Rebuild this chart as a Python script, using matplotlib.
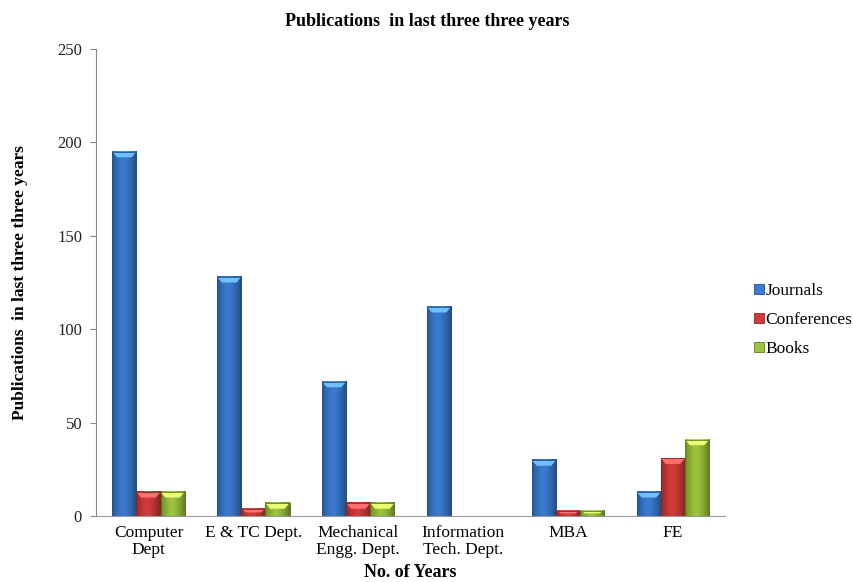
import numpy as np
import matplotlib
matplotlib.use('Agg')
import matplotlib.pyplot as plt
from matplotlib.colors import to_rgb

plt.rcParams['font.family'] = ['Liberation Serif', 'DejaVu Serif']

depts = ['Computer\nDept', 'E & TC Dept.', 'Mechanical\nEngg. Dept.',
         'Information\nTech. Dept.', 'MBA', 'FE']
journals = [195, 128, 72, 112, 30, 13]
conferences = [13, 4, 7, 0, 3, 31]
books = [13, 7, 7, 0, 3, 41]

series = ['Journals', 'Conferences', 'Books']
colors = ['#3a7bd0', '#d33b3b', '#9cc43c']
dark = ['#24528f', '#8f2222', '#5f7d1c']

fig = plt.figure(figsize=(8.54, 5.82), dpi=100)
ax = fig.add_axes([0.1124, 0.113, 0.737, 0.803])

x = np.arange(len(depts))
w = 0.23
vals = [journals, conferences, books]

# horizontal shading across each bar, darker at the edges
t = np.linspace(0, 1, 64)
prof = 1 - 0.45 * np.abs(t - 0.45) ** 1.5 * 2.2
prof = np.clip(prof, 0.35, 1)

for i, (v, c, d) in enumerate(zip(vals, colors, dark)):
    pos = x + (i - 1) * w
    bars = ax.bar(pos, v, width=w, color=c, edgecolor=d, linewidth=0.6,
                  label=series[i], zorder=2)
    base = np.array(to_rgb(c))
    img = base[None, None, :] * prof[None, :, None]
    img = np.clip(img, 0, 1)
    for b in bars:
        h = b.get_height()
        if h <= 0:
            continue
        x0 = b.get_x()
        ax.imshow(img, extent=[x0, x0 + w, 0, h], aspect='auto',
                  zorder=2.5, interpolation='bilinear')
        # lighter bevel cap on top
        cap = min(h * 0.5, 3.0)
        light = np.clip(base * 1.25 + 0.15, 0, 1)
        ax.fill([x0, x0 + w, x0 + w * 0.8, x0 + w * 0.2],
                [h, h, h - cap, h - cap], color=light, zorder=2.6, lw=0)
        ax.add_patch(plt.Rectangle((x0, 0), w, h, fill=False, edgecolor=d,
                                   linewidth=0.6, zorder=2.7))

ax.set_xlim(-0.5, len(depts) - 0.5)
ax.set_ylim(0, 250)
ax.set_yticks(np.arange(0, 251, 50))
ax.set_xticks(x)
ax.set_xticklabels(depts, fontsize=12.5, linespacing=1.15)
ax.tick_params(axis='x', length=0, pad=6)
ax.tick_params(axis='y', length=4, direction='out', colors='#888888',
               labelcolor='#222222', labelsize=12, pad=6)
for s in ['top', 'right']:
    ax.spines[s].set_visible(False)
ax.spines['left'].set_color('#888888')
ax.spines['bottom'].set_color('#999999')

ax.set_ylabel('Publications  in last three three years', fontsize=12.5,
              fontweight='bold', labelpad=21)
ax.set_xlabel('No. of Years', fontsize=13, fontweight='bold', labelpad=4)
fig.suptitle('Publications  in last three three years', fontsize=13,
             fontweight='bold', y=0.977)

leg = ax.legend(loc='center left', bbox_to_anchor=(1.035, 0.42), frameon=False,
                fontsize=12.5, handlelength=0.55, handleheight=0.55,
                handletextpad=0.1, labelspacing=0.75, borderaxespad=0.0)

fig.savefig('out.png', dpi=100)
